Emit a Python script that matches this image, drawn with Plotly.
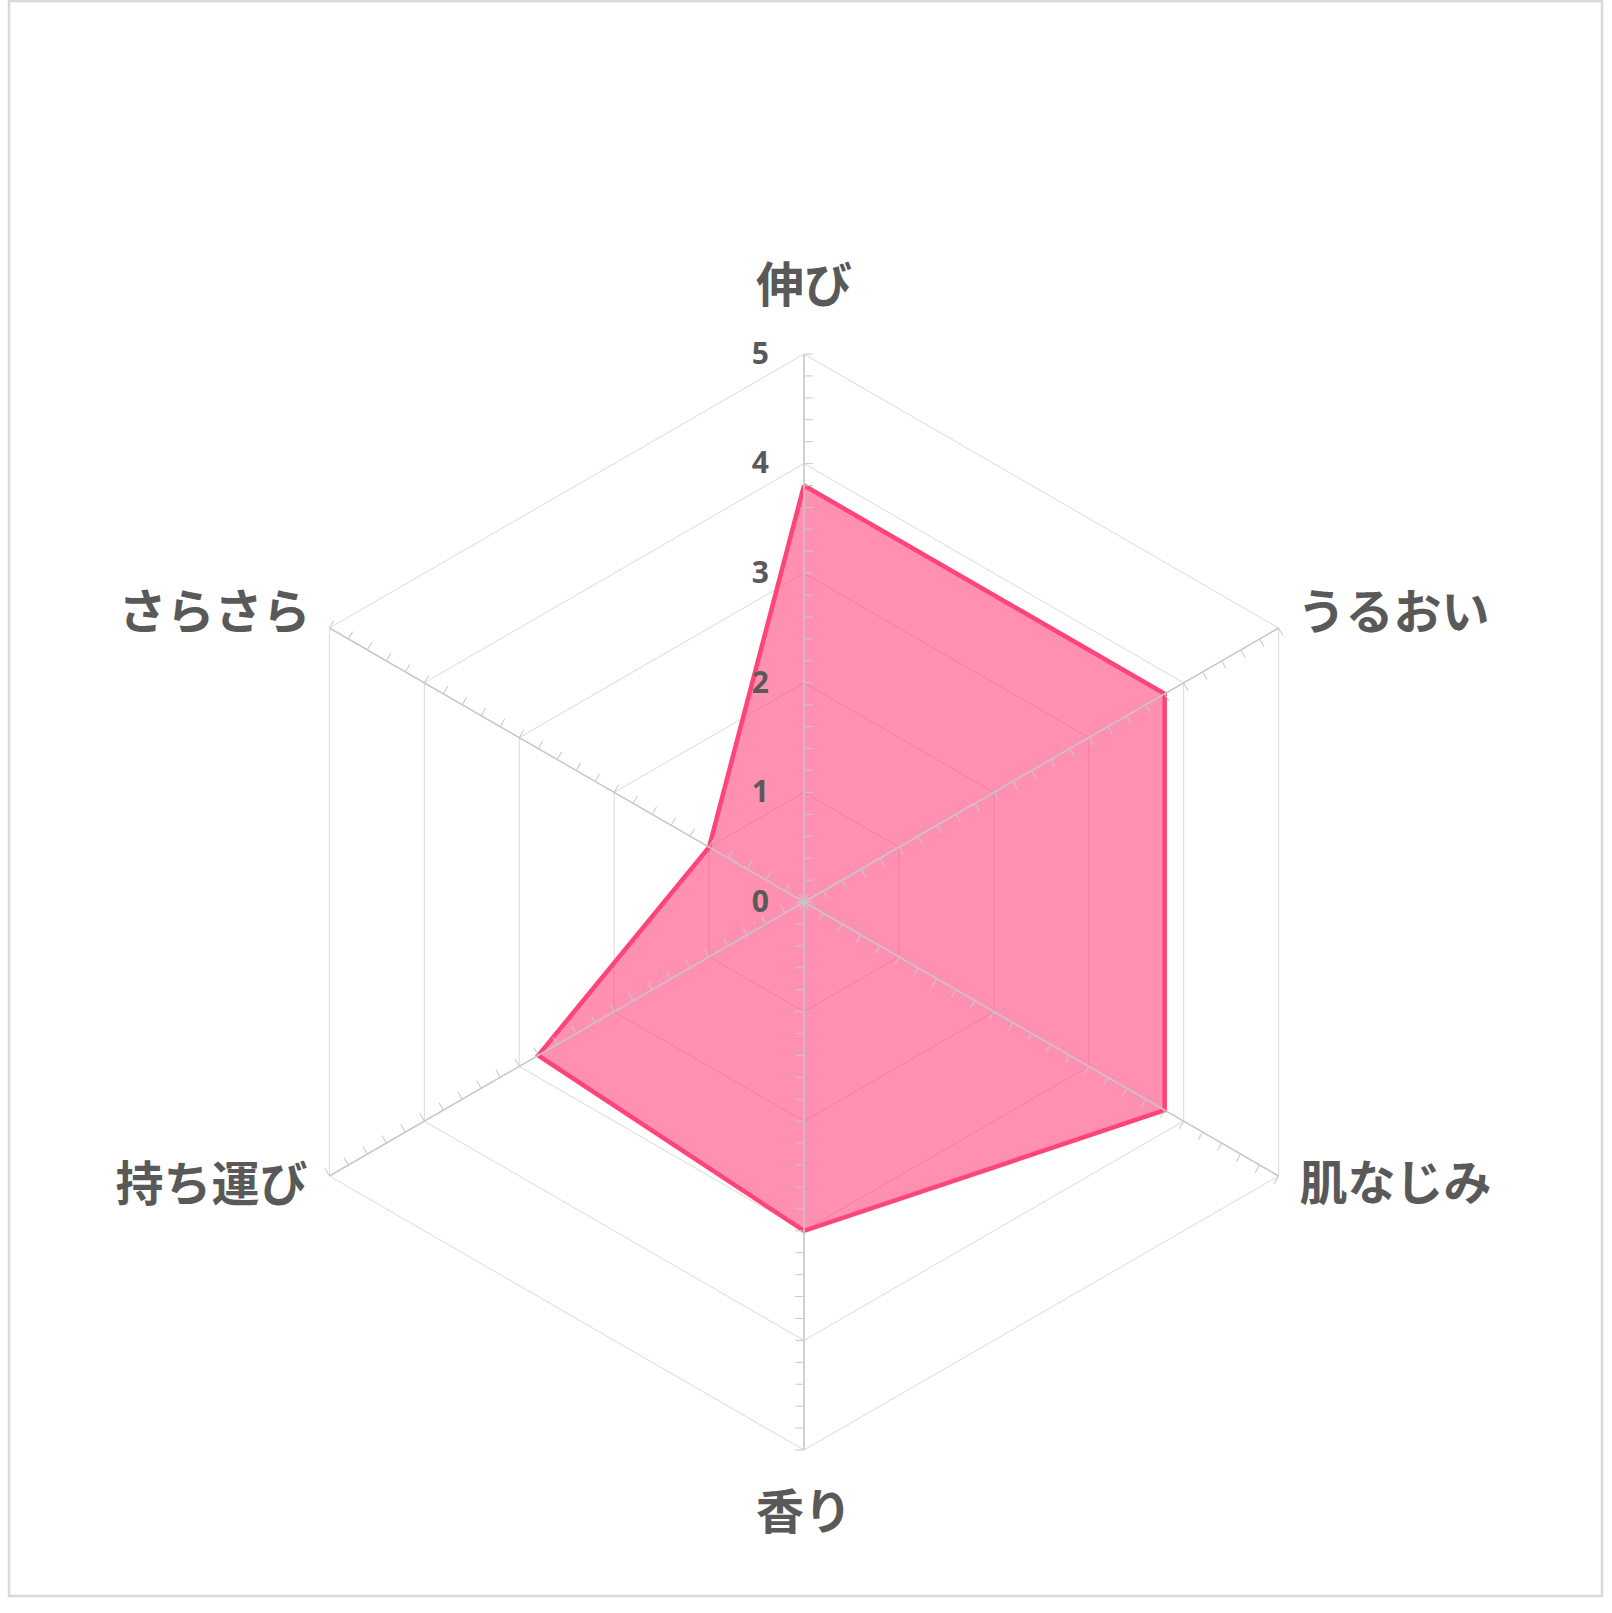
import plotly.graph_objects as go

# Data
categories = ["伸び", "うるおい", "肌なじみ", "香り", "持ち運び", "さらさら"]
scores = [3.8, 3.8, 3.8, 3.0, 2.8, 1.0]
major_ticks = [0, 1, 2, 3, 4, 5]
major_labels = ["0", "1", "2", "3", "4", "5"]
minor_ticks = [i / 5 for i in range(26)]
spoke_angles = [90, 30, -30, -90, -150, 150]

# where the category names sit (radial position + anchor)
label_r = [5.58, 5.20, 5.22, 5.61, 5.23, 5.20]
label_pos = ["middle center", "middle right", "middle right",
             "middle center", "middle left", "middle left"]

GRAY_TEXT = "#595959"
GRID = "#d9d9d9"
AXIS = "#c8c8c8"

W, H = 1612, 1613
cx, cy, rad = 804, 902, 548


def domain(radius):
    return dict(x=[(cx - radius) / W, (cx + radius) / W],
                y=[1 - (cy + radius) / H, 1 - (cy - radius) / H])


fig = go.Figure()

fig.add_trace(go.Scatterpolar(
    r=scores + scores[:1],
    theta=categories + categories[:1],
    mode="lines",
    fill="toself",
    fillcolor="rgba(255,64,122,0.58)",
    line=dict(color="#ff4479", width=4.5),
    hoverinfo="skip",
    subplot="polar",
))

layout = dict(
    width=W,
    height=H,
    margin=dict(l=0, r=0, t=0, b=0),
    paper_bgcolor="white",
    showlegend=False,
    polar=dict(
        domain=domain(rad),
        bgcolor="rgba(0,0,0,0)",
        gridshape="linear",
        angularaxis=dict(
            direction="clockwise",
            rotation=90,
            categoryorder="array",
            categoryarray=categories,
            showline=True,
            linecolor=GRID,
            linewidth=1,
            gridcolor=GRID,
            ticks="",
            showticklabels=False,
        ),
        radialaxis=dict(
            range=[0, 5],
            angle=90,
            side="counterclockwise",
            tickvals=major_ticks,
            ticktext=major_labels,
            tickangle=90,
            ticks="outside",
            ticklen=24,
            tickcolor="rgba(0,0,0,0)",
            showline=False,
            gridcolor=GRID,
            tickfont=dict(family="Open Sans", size=30, color=GRAY_TEXT, weight="bold"),
        ),
    ),
    shapes=[dict(
        type="rect", xref="paper", yref="paper",
        x0=9 / W, x1=1602 / W, y0=1 - 1596 / H, y1=1 - 1 / H,
        line=dict(color=GRID, width=2.5),
    )],
)

# overlay polars: spoke lines with minor ticks, drawn above the fill
for i, ang in enumerate(spoke_angles):
    name = f"polar{i + 2}"
    fig.add_trace(go.Scatterpolar(r=[None], theta=[None], mode="lines",
                                  hoverinfo="skip", subplot=name))
    layout[name] = dict(
        domain=domain(rad),
        bgcolor="rgba(0,0,0,0)",
        angularaxis=dict(showline=False, showgrid=False, showticklabels=False, ticks=""),
        radialaxis=dict(
            range=[0, 5],
            angle=ang,
            side="clockwise",
            tickvals=minor_ticks,
            showticklabels=False,
            ticks="outside",
            ticklen=8,
            tickwidth=1,
            tickcolor=AXIS,
            showline=True,
            linecolor=AXIS,
            linewidth=1.5,
            showgrid=False,
        ),
    )

# category names: a wider, invisible polar with the same scale (range 0-6)
fig.add_trace(go.Scatterpolar(
    r=label_r,
    theta=categories,
    mode="text",
    text=categories,
    textposition=label_pos,
    textfont=dict(family="Noto Sans CJK JP", size=48, color=GRAY_TEXT, weight="bold"),
    cliponaxis=False,
    hoverinfo="skip",
    subplot="polar8",
))
layout["polar8"] = dict(
    domain=domain(rad * 6 / 5),
    bgcolor="rgba(0,0,0,0)",
    angularaxis=dict(direction="clockwise", rotation=90,
                     categoryorder="array", categoryarray=categories,
                     showline=False, showgrid=False, showticklabels=False, ticks=""),
    radialaxis=dict(range=[0, 6], visible=False),
)

fig.update_layout(**layout)

# page has a default body margin; drop it so the figure sits at the window origin
fig.write_html("out.html", config={"displayModeBar": False},
               post_script="document.body.style.margin='0';")
